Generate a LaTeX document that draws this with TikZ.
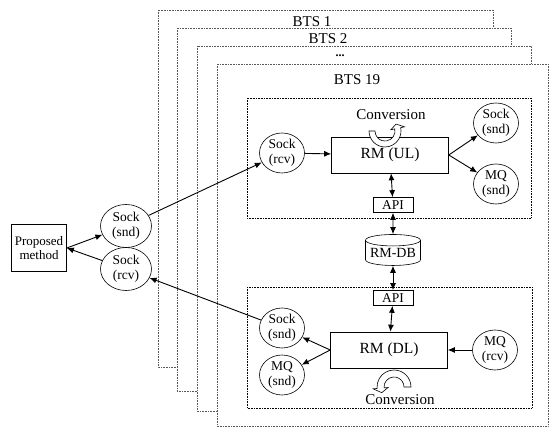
\documentclass[tikz,border=0pt]{standalone}
\usepackage{fontspec}
\setmainfont{Liberation Serif}
\usetikzlibrary{shapes.geometric,arrows.meta,calc}
\def\convarrow(#1)(#2:#3:#4:#5:#6)% Syntax: (center) (tail angle:head angle:outer radius:inner radius:tip angle)
    { \draw[fill=white, line width=0.6pt] ($(#1)+(#2:#4pt)$) arc (#2:#3:#4pt) -- ($(#1)+(#3:{#4pt+4pt})$)
      -- ($(#1)+(#6:{(#4pt+#5pt)/2})$) -- ($(#1)+(#3:{#5pt-4pt})$) -- ($(#1)+(#3:#5pt)$) arc (#3:#2:#5pt) -- cycle; }

\begin{document}
\begin{tikzpicture}[x=1pt, y=-1pt, line width=0.9pt, >={Latex[length=7pt,width=6pt]},
  btsframe/.style={draw=black!65, densely dotted, line width=0.6pt, fill=white},
  inbox/.style={draw, densely dotted, line width=0.6pt},
  sock/.style={ellipse, draw, line width=0.6pt, inner sep=0pt, minimum width=45pt, minimum height=40pt,
    align=center, font=\fontsize{13.5}{15.5}\selectfont},
  rmbox/.style={rectangle, draw, line width=0.6pt, minimum width=117pt, minimum height=36pt,
    font=\fontsize{15.5}{17}\selectfont},
  apibox/.style={rectangle, draw, line width=0.6pt, inner sep=0pt, minimum width=40pt, minimum height=15pt,
    font=\fontsize{13.5}{14}\selectfont},
  lbl/.style={inner sep=1pt, font=\fontsize{15}{16}\selectfont}]
\useasboundingbox (0,0) rectangle (550,430);
% stacked BTS frames
\draw[btsframe] (158,10) rectangle (493,367);
\node[lbl] (bts1) at (312,22) {BTS 1};
\draw[btsframe] (177,28) rectangle (511,391);
\node[lbl, inner sep=0pt] (bts2) at (328,39) {BTS 2};
\draw[btsframe] (197,46) rectangle (531,411);
\node[inner sep=0pt, font=\fontsize{12}{12}\selectfont] (btsdots) at (340,56) {\textbf{...}};
\draw[btsframe] (217,64) rectangle (548,426);
\node[lbl] (bts19) at (357,80) {BTS 19};
% uplink and downlink boxes
\draw[inbox] (247,98) rectangle (531,218);
\draw[inbox] (247,287) rectangle (532,408);
% proposed method side
\node[rectangle, draw, line width=0.6pt, minimum width=52pt, minimum height=47pt, align=center,
  font=\fontsize{13}{14.5}\selectfont] (pm) at (39,248) {Proposed\\method};
\node[sock, minimum width=51pt, minimum height=43pt] (lsnd) at (126,226) {Sock\\(snd)};
\node[sock, minimum width=51pt, minimum height=43pt] (lrcv) at (126,269) {Sock\\(rcv)};
% uplink
\node[sock] (ulrcv) at (282,153) {Sock\\(rcv)};
\node[rmbox] (rmul) at (390,155) {RM (UL)};
\node[sock] (ursnd) at (496,123) {Sock\\(snd)};
\node[sock] (umqsnd) at (496,184) {MQ\\(snd)};
\node[apibox] (uapi) at (393,205) {API};
% data base
\node[cylinder, shape border rotate=90, aspect=0.25, draw, line width=0.6pt, inner sep=0pt,
  minimum width=55pt, minimum height=31pt, font=\fontsize{14}{15}\selectfont] (db) at (393,253) {RM-DB};
% downlink
\node[apibox] (dapi) at (393,298) {API};
\node[rmbox] (rmdl) at (389,350) {RM (DL)};
\node[sock] (dlsnd) at (282,328) {Sock\\(snd)};
\node[sock] (dmqsnd) at (282,375) {MQ\\(snd)};
\node[sock] (dmqrcv) at (495,350) {MQ\\(rcv)};
% connectors
\draw[->] (pm.east) -- (lsnd);
\draw[->] (lrcv) -- (pm.east);
\draw[->] (lsnd) -- (ulrcv);
\draw[->] (dlsnd) -- (lrcv);
\draw[->] (ulrcv) -- (rmul);
\draw[->] (rmul.east) -- (ursnd);
\draw[->] (rmul.east) -- (umqsnd);
\draw[<->] (rmul) -- (uapi);
\draw[<->] (uapi) -- (db);
\draw[<->] (db) -- (dapi);
\draw[<->] (dapi) -- (rmdl);
\draw[->] (dmqrcv) -- (rmdl);
\draw[->] (rmdl.west) -- (dlsnd);
\draw[->] (rmdl.west) -- (dmqsnd);
% conversion arrows
\convarrow(385,131)(180:372:16:10:392)
\node[lbl] (ulconv) at (391,115) {Conversion};
\convarrow(394,387)(0:185:17:10:205)
\node[lbl] (dlconv) at (400,400) {Conversion};
\end{tikzpicture}
\end{document}
